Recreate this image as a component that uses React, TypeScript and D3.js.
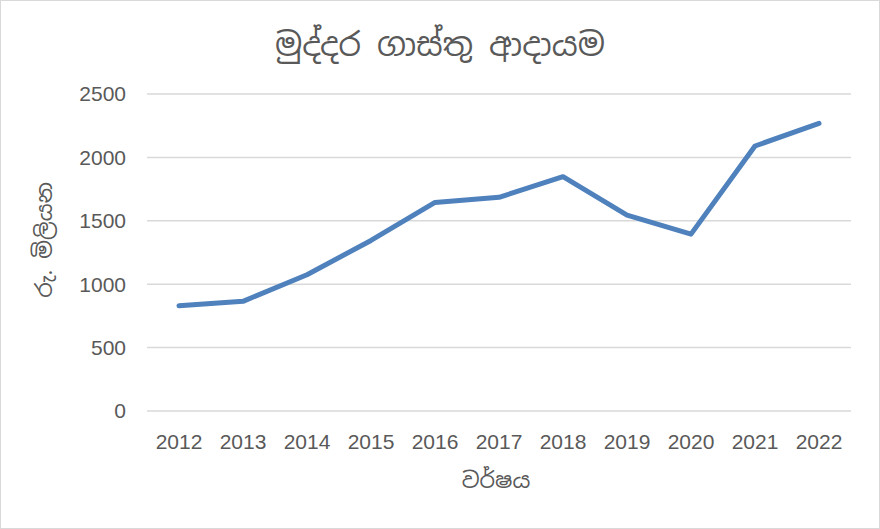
import React from "react";
import * as d3 from "d3";

const years = ["2012", "2013", "2014", "2015", "2016", "2017", "2018", "2019", "2020", "2021", "2022"];
const revenue = [830, 865, 1075, 1345, 1645, 1685, 1848, 1545, 1395, 2090, 2268];
const yTicks = [0, 500, 1000, 1500, 2000, 2500];
const title = "මුද්දර ගාස්තු ආදායම";
const yTitle = "රු. මිලියන";
const xTitle = "වර්ෂය";

const W = 880;
const H = 529;
const left = 147;
const right = 851;
const top = 94;
const bottom = 411;

export default function App() {
  const x = d3.scaleBand<string>().domain(years).range([left, right]);
  const y = d3.scaleLinear().domain([0, 2500]).range([bottom, top]);
  const line = d3
    .line<number>()
    .x((_, i) => (x(years[i]) as number) + x.bandwidth() / 2)
    .y((d) => y(d));
  const font = "'Liberation Sans', Arial, sans-serif";
  const sinhala = "'Noto Sans Sinhala', 'Iskoola Pota', 'Noto Serif Sinhala', sans-serif";
  return (
    <svg
      width={W}
      height={H}
      style={{ position: "fixed", left: 0, top: 0, background: "#fff" }}
    >
      <rect x={0.5} y={0.5} width={W - 1} height={H - 1} fill="#fff" stroke="#d9d9d9" />
      <text x={440} y={56} textAnchor="middle" fontFamily={sinhala} fontSize={32} fill="#595959">
        {title}
      </text>
      {yTicks.map((t) => (
        <g key={t}>
          <line x1={left} x2={right} y1={y(t)} y2={y(t)} stroke="#d9d9d9" strokeWidth={1.5} />
          <text
            x={126}
            y={y(t)}
            dy="0.35em"
            textAnchor="end"
            fontFamily={font}
            fontSize={21}
            fill="#595959"
          >
            {t}
          </text>
        </g>
      ))}
      {years.map((yr) => (
        <text
          key={yr}
          x={(x(yr) as number) + x.bandwidth() / 2}
          y={449}
          textAnchor="middle"
          fontFamily={font}
          fontSize={21}
          fill="#595959"
        >
          {yr}
        </text>
      ))}
      <path
        d={line(revenue) || ""}
        fill="none"
        stroke="#4f81bd"
        strokeWidth={5}
        strokeLinejoin="round"
        strokeLinecap="round"
      />
      <text
        transform={`translate(52,240) rotate(-90)`}
        textAnchor="middle"
        fontFamily={sinhala}
        fontSize={22}
        fill="#595959"
      >
        {yTitle}
      </text>
      <text x={496} y={488} textAnchor="middle" fontFamily={sinhala} fontSize={22} fill="#595959">
        {xTitle}
      </text>
    </svg>
  );
}
